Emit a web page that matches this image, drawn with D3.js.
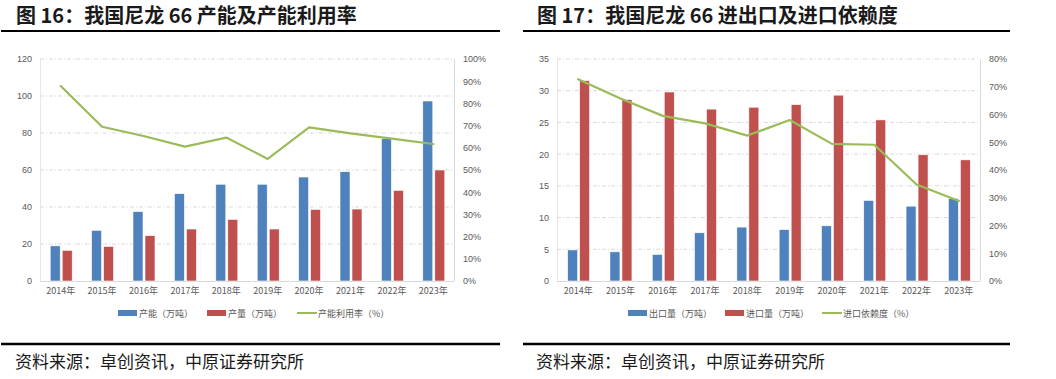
<!DOCTYPE html>
<html><head><meta charset="utf-8">
<script src="https://cdn.jsdelivr.net/npm/d3@7"></script>
<style>
body{margin:0;background:#fff;}
svg{display:block;}
</style></head>
<body>
<svg id="c" width="1056" height="379"></svg>
<script>
const years = ["2014年","2015年","2016年","2017年","2018年","2019年","2020年","2021年","2022年","2023年"];

// Chart 16
const capacity = [19, 27.4, 37.5, 47.2, 52.3, 52.3, 56.2, 59.1, 76.9, 97.3];
const output = [16.6, 18.7, 24.5, 28.1, 33.3, 28.1, 38.7, 38.9, 49.0, 60.0];
const utilization = [87.8, 69.5, 65.3, 60.5, 64.6, 55.0, 69.2, 66.5, 64.1, 61.7];
const leftTicks16 = [0, 20, 40, 60, 80, 100, 120];
const rightTicks16 = [0,10,20,30,40,50,60,70,80,90,100];
const legend16 = ["产能（万吨）","产量（万吨）","产能利用率（%）"];
const title16 = "图 16：我国尼龙 66 产能及产能利用率";

// Chart 17
const exportsV = [4.9, 4.6, 4.2, 7.6, 8.5, 8.1, 8.7, 12.7, 11.8, 13.0];
const importsV = [31.6, 28.6, 29.8, 27.1, 27.4, 27.8, 29.3, 25.4, 19.9, 19.1];
const dependence = [72.7, 65.8, 59.5, 56.8, 52.4, 58.0, 49.4, 49.1, 34.8, 28.8];
const leftTicks17 = [0, 5, 10, 15, 20, 25, 30, 35];
const rightTicks17 = [0,10,20,30,40,50,60,70,80];
const legend17 = ["出口量（万吨）","进口量（万吨）","进口依赖度（%）"];
const title17 = "图 17：我国尼龙 66 进出口及进口依赖度";

const source = "资料来源：卓创资讯，中原证券研究所";
const BLUE = "#4F81BD", RED = "#C0504D", GREEN = "#9BBB59";
const svg = d3.select("#c");
const FONT = "'Noto Sans CJK SC', 'Noto Sans', sans-serif";

function drawPanel(o){
  const g = svg.append("g");
  // title
  g.append("text").attr("x", o.titleX).attr("y", 23)
    .attr("font-family", FONT).attr("font-weight", "bold").attr("font-size", 20)
    .attr("fill", "#1a1a1a").text(o.title);
  g.append("line").attr("x1", o.ruleX1).attr("x2", o.ruleX2).attr("y1", 31).attr("y2", 31)
    .attr("stroke", "#000").attr("stroke-width", 2);

  const x = d3.scaleBand().domain(years).range([o.left, o.right]);
  const yL = d3.scaleLinear().domain([0, d3.max(o.leftTicks)]).range([281, 59]);
  const yR = d3.scaleLinear().domain([0, d3.max(o.rightTicks)]).range([281, 59]);

  // gridlines
  g.append("g").selectAll("line").data(o.leftTicks.filter(d => d > 0)).join("line")
    .attr("x1", o.left).attr("x2", o.right)
    .attr("y1", d => yL(d)).attr("y2", d => yL(d))
    .attr("stroke", "#d9d9d9").attr("stroke-width", 1).attr("stroke-dasharray", "4,2,1,2");
  // axes lines
  g.append("line").attr("x1", o.left).attr("x2", o.right).attr("y1", 281.5).attr("y2", 281.5).attr("stroke", "#d9d9d9");
  g.append("line").attr("x1", o.left + 0.5).attr("x2", o.left + 0.5).attr("y1", 59).attr("y2", 281).attr("stroke", "#e6e6e6");
  g.append("line").attr("x1", o.right + 0.5).attr("x2", o.right + 0.5).attr("y1", 59).attr("y2", 281).attr("stroke", "#d9d9d9");

  // left axis labels
  const axL = d3.axisLeft(yL).tickValues(o.leftTicks).tickSize(0).tickPadding(0);
  const gl = g.append("g").attr("transform", `translate(${o.left - 8},0)`).call(axL);
  gl.select(".domain").remove();
  gl.selectAll("text").attr("font-family", "'Liberation Sans', Arial, sans-serif").attr("font-size", 9).attr("fill", "#595959");

  const axR = d3.axisRight(yR).tickValues(o.rightTicks).tickFormat(d => d + "%").tickSize(0).tickPadding(0);
  const gr = g.append("g").attr("transform", `translate(${o.right + 9},0)`).call(axR);
  gr.select(".domain").remove();
  gr.selectAll("text").attr("font-family", "'Liberation Sans', Arial, sans-serif").attr("font-size", 9).attr("fill", "#595959");

  // x labels
  const axB = d3.axisBottom(x).tickSize(0).tickPadding(0);
  const gb = g.append("g").attr("transform", `translate(0,288)`).call(axB);
  gb.select(".domain").remove();
  gb.selectAll("text").attr("font-family", FONT).attr("font-size", 9).attr("fill", "#595959");

  const bw = 10, gap = 2;
  g.append("g").selectAll("rect").data(o.s1).join("rect")
    .attr("x", (d, i) => x(years[i]) + x.bandwidth()/2 - bw - gap/2 + 0.5)
    .attr("y", d => yL(d)).attr("width", bw).attr("height", d => yL(0) - yL(d))
    .attr("fill", BLUE).attr("stroke", "#fff").attr("stroke-width", 0.6);
  g.append("g").selectAll("rect").data(o.s2).join("rect")
    .attr("x", (d, i) => x(years[i]) + x.bandwidth()/2 + gap/2 + 0.5)
    .attr("y", d => yL(d)).attr("width", bw).attr("height", d => yL(0) - yL(d))
    .attr("fill", RED).attr("stroke", "#fff").attr("stroke-width", 0.6);

  const line = d3.line().x((d, i) => x(years[i]) + x.bandwidth()/2).y(d => yR(d));
  g.append("path").datum(o.s3).attr("d", line).attr("fill", "none")
    .attr("stroke", GREEN).attr("stroke-width", 2.2).attr("stroke-linejoin", "round").attr("stroke-linecap", "round");

  // legend
  const ly = 313;
  const lg = g.append("g").attr("font-family", FONT).attr("font-size", 9).attr("fill", "#595959");
  lg.append("rect").attr("x", o.legX[0]).attr("y", ly - 3).attr("width", 19).attr("height", 6).attr("fill", BLUE);
  lg.append("text").attr("x", o.legX[0] + 21).attr("y", ly + 3.5).text(o.legend[0]);
  lg.append("rect").attr("x", o.legX[1]).attr("y", ly - 3).attr("width", 19).attr("height", 6).attr("fill", RED);
  lg.append("text").attr("x", o.legX[1] + 21).attr("y", ly + 3.5).text(o.legend[1]);
  lg.append("line").attr("x1", o.legX[2]).attr("x2", o.legX[2] + 20).attr("y1", ly).attr("y2", ly)
    .attr("stroke", GREEN).attr("stroke-width", 2);
  lg.append("text").attr("x", o.legX[2] + 21).attr("y", ly + 3.5).text(o.legend[2]);

  // source
  g.append("line").attr("x1", o.ruleX1).attr("x2", o.ruleX2).attr("y1", 344).attr("y2", 344)
    .attr("stroke", "#000").attr("stroke-width", 2.5);
  g.append("text").attr("x", o.titleX - 1).attr("y", 368)
    .attr("font-family", "'Noto Sans CJK SC', sans-serif").attr("font-size", 17).attr("fill", "#1a1a1a")
    .text(source);
}

drawPanel({title: title16, titleX: 16, ruleX1: 1, ruleX2: 500, left: 40, right: 454,
  leftTicks: leftTicks16, rightTicks: rightTicks16, s1: capacity, s2: output, s3: utilization,
  legend: legend16, legX: [118, 207, 297]});
drawPanel({title: title17, titleX: 537, ruleX1: 523, ruleX2: 1010, left: 557, right: 980,
  leftTicks: leftTicks17, rightTicks: rightTicks17, s1: exportsV, s2: importsV, s3: dependence,
  legend: legend17, legX: [628, 725, 822]});
</script>
</body></html>
